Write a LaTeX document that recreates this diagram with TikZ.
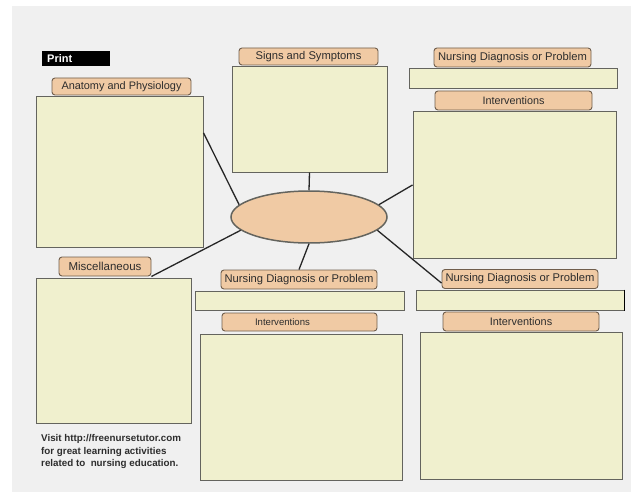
\documentclass[tikz,border=0pt]{standalone}
\usepackage{fontspec}
\setmainfont{Liberation Sans}
\usetikzlibrary{shapes.geometric}

\definecolor{paper}{RGB}{240,240,240}
\definecolor{pad}{RGB}{240,240,206}
\definecolor{peach}{RGB}{240,202,164}
\definecolor{boxedge}{RGB}{100,100,94}
\definecolor{tagedge}{RGB}{112,94,76}
\definecolor{ink}{RGB}{45,45,45}

\begin{document}
\begin{tikzpicture}[x=1pt, y=-1pt,
    headbox/.style={draw=tagedge, fill=peach, rounded corners=3pt, line width=0.9pt,
        inner sep=0pt, minimum width=156pt, minimum height=19pt,
        font=\fontsize{11.2}{13}\selectfont, text=ink},
    notebox/.style={draw=boxedge, fill=pad, line width=1pt, inner sep=0pt},
    hub/.style={ellipse, draw=boxedge, fill=peach, line width=1.5pt,
        minimum width=156pt, minimum height=52pt, inner sep=0pt},
    link/.style={line width=1.3pt, black!85}]

    % page
    \fill[white] (0,0) rectangle (631,492);
    \useasboundingbox (0,0) rectangle (631,492);
    \fill[paper] (12,6) rectangle (631,492);

    \node[fill=black, text=white, font=\bfseries\fontsize{11}{13}\selectfont,
        anchor=north west, inner xsep=5pt, inner ysep=0pt, text width=58pt,
        minimum height=15pt, align=left] (print) at (42,51) {Print};

    % left column
    \node[notebox, minimum width=167pt, minimum height=150pt] (anabox) at (119.5,172) {};
    \node[headbox, minimum width=139pt, minimum height=17pt, font=\fontsize{10.9}{13}\selectfont] (analab) at (121.5,86.5) {Anatomy and Physiology};
    \node[notebox, minimum width=155pt, minimum height=145pt] (miscbox) at (113.5,350.5) {};
    \node[headbox, minimum width=92pt, font=\fontsize{11.5}{13}\selectfont] (misclab) at (105,266.5) {Miscellaneous};

    % centre
    \node[notebox, minimum width=155pt, minimum height=105pt] (signbox) at (309.5,119.5) {};
    \node[headbox, minimum width=139pt, minimum height=17pt] (signlab) at (308.5,56.5) {Signs and Symptoms};
    \node[hub] (hub) at (309,217) {};

    % top right
    \node[headbox, minimum width=157pt] (ndlab1) at (512.5,57.5) {Nursing Diagnosis or Problem};
    \node[notebox, minimum width=208pt, minimum height=20pt] (ndbox1) at (513,79) {};
    \node[headbox, minimum width=157pt, font=\fontsize{10.8}{13}\selectfont] (intlab1) at (513.5,100.5) {Interventions};
    \node[notebox, minimum width=203pt, minimum height=146pt] (intbox1) at (514.5,185) {};

    % bottom middle
    \node[headbox] (ndlab2) at (299,279.5) {Nursing Diagnosis or Problem};
    \node[notebox, minimum width=209pt, minimum height=19pt] (ndbox2) at (299.5,300.5) {};
    \node[headbox, minimum width=155pt, minimum height=18pt, text width=155pt, align=left,
        font=\fontsize{9.6}{11}\selectfont] (intlab2) at (299.5,322) {\hspace*{33pt}Interventions};
    \node[notebox, minimum width=202pt, minimum height=146pt] (intbox2) at (301,407) {};

    % bottom right
    \node[headbox] (ndlab3) at (520,279) {Nursing Diagnosis or Problem};
    \node[notebox, minimum width=208pt, minimum height=20pt] (ndbox3) at (520,300) {};
    \draw[line width=1.8pt] (ndbox3.north east) -- (ndbox3.south east);
    \node[headbox, font=\fontsize{10.9}{13}\selectfont] (intlab3) at (521,321.5) {Interventions};
    \node[notebox, minimum width=202pt, minimum height=147pt] (intbox3) at (521,405.5) {};

    \node[anchor=north west, align=left, inner sep=0pt, text=ink,
        font=\bfseries\fontsize{9.8}{12.2}\selectfont] (visit) at (41,434.5)
        {Visit http://freenursetutor.com\\for great learning activities\\related to\ \ nursing education.};

    % spokes
    \draw[link] (anabox.25) -- (hub.170);
    \draw[link] (signbox.south) -- (hub.north);
    \draw[link] (hub.10) -- (intbox1.west);
    \draw[link] (hub.191) -- (misclab.south east);
    \draw[link] (hub.south) -- (ndlab2.north);
    \draw[link] (hub.349) -- (ndlab3.183);

\end{tikzpicture}
\end{document}
